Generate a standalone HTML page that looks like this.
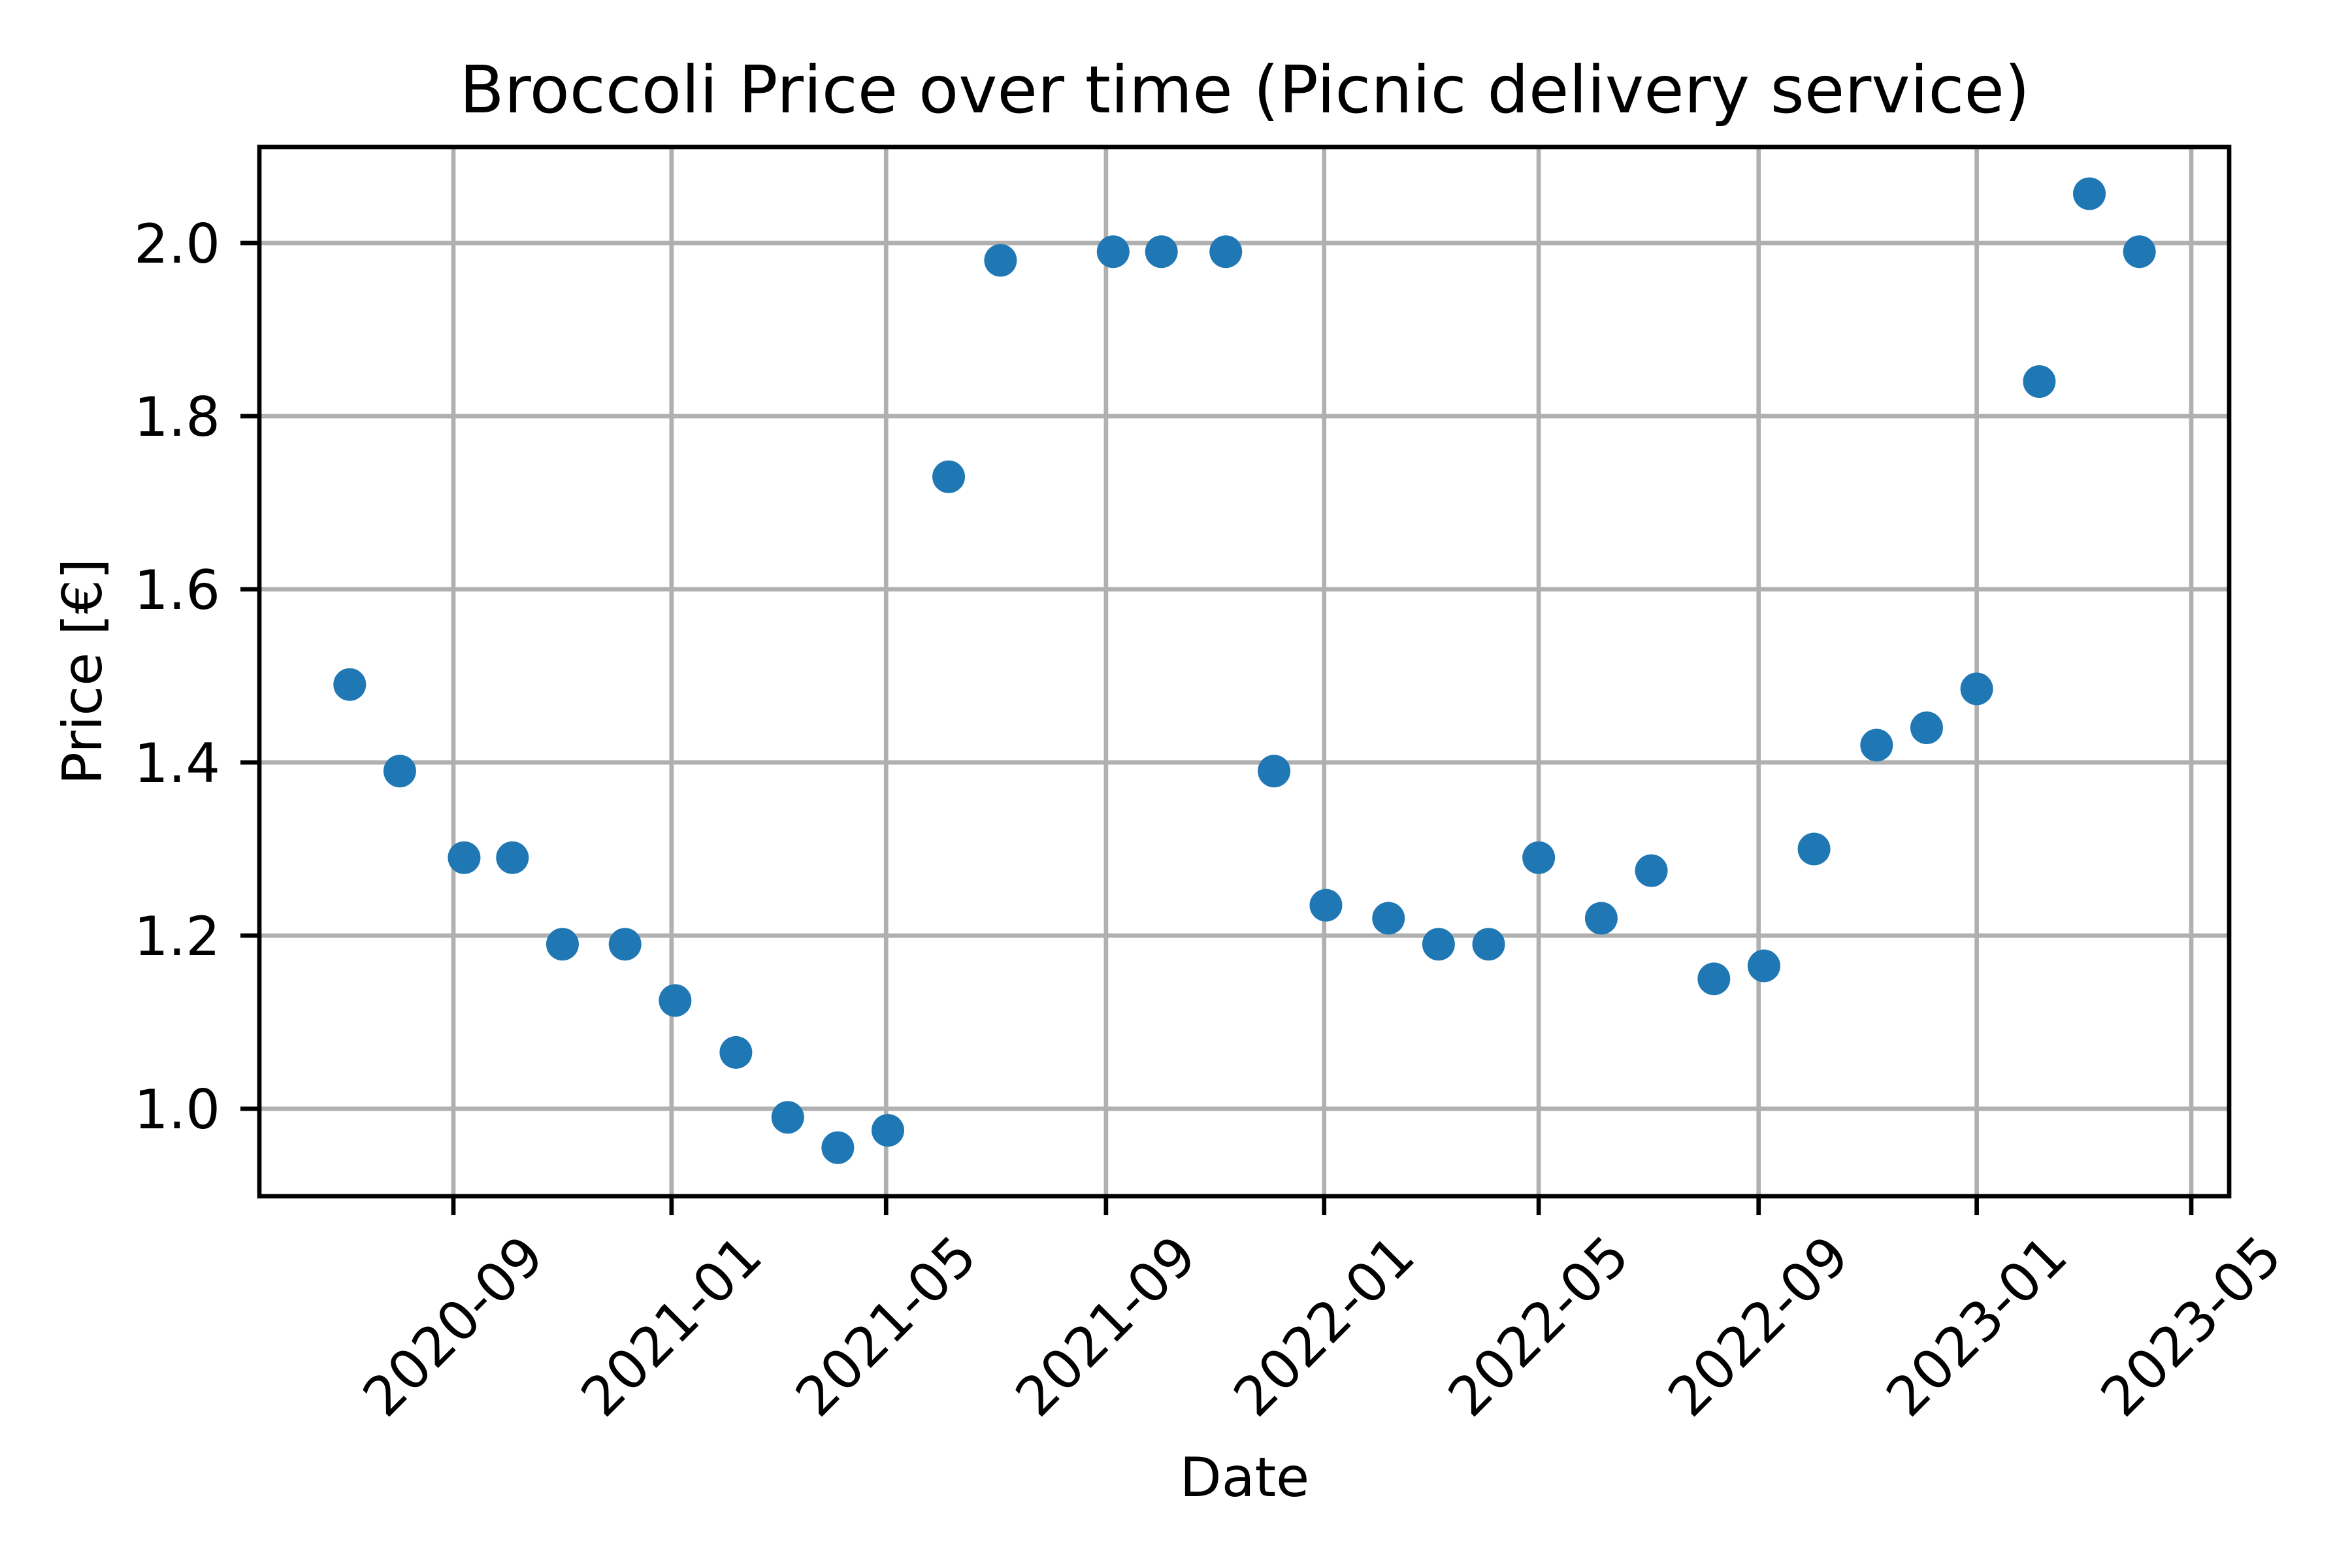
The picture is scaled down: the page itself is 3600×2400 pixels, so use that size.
<!DOCTYPE html>
<html><head><meta charset="utf-8"><style>
html,body{margin:0;padding:0;background:#fff}
svg{display:block;font-family:"DejaVu Sans","Liberation Sans",sans-serif}
</style></head><body>
<svg id="chart" width="3600" height="2400" viewBox="0 0 3600 2400" xmlns="http://www.w3.org/2000/svg">
<rect x="0" y="0" width="3600" height="2400" fill="#fff"/>
<g id="grid"></g>
<g id="points"></g>
<g id="axes"></g>
<text x="1905" y="172" font-size="100" text-anchor="middle">Broccoli Price over time (Picnic delivery service)</text>
<text x="1905" y="2290" font-size="83" text-anchor="middle">Date</text>
<text x="0" y="0" font-size="83" text-anchor="middle" transform="translate(155,1028) rotate(-90)">Price [€]</text>
</svg>
<script>
const dates = ["2020-07-05","2020-08-02","2020-09-07","2020-10-04","2020-11-01","2020-12-06","2021-01-03","2021-02-06","2021-03-07","2021-04-04","2021-05-02","2021-06-05","2021-07-04","2021-09-05","2021-10-02","2021-11-07","2021-12-04","2022-01-02","2022-02-06","2022-03-06","2022-04-03","2022-05-01","2022-06-05","2022-07-03","2022-08-07","2022-09-04","2022-10-02","2022-11-06","2022-12-04","2023-01-01","2023-02-05","2023-03-05","2023-04-02"];
const prices = [1.49,1.39,1.29,1.29,1.19,1.19,1.125,1.065,0.99,0.955,0.975,1.73,1.98,1.99,1.99,1.99,1.39,1.235,1.22,1.19,1.19,1.29,1.22,1.275,1.15,1.165,1.30,1.42,1.44,1.485,1.84,2.057,1.99];
const xTicks = ["2020-09","2021-01","2021-05","2021-09","2022-01","2022-05","2022-09","2023-01","2023-05"];
const yTicks = [1.0,1.2,1.4,1.6,1.8,2.0];

const NS="http://www.w3.org/2000/svg";
const L=397,R=3412,T=225,B=1831;
const day=86400000;
const x0=Date.UTC(2020,8,1), pxPerDay=2660/972;
function xs(s){const p=s.split("-").map(Number);const t=Date.UTC(p[0],p[1]-1,p[2]||1);return 694+(t-x0)/day*pxPerDay;}
function ys(v){return 372+(2.0-v)*1325;}
function mk(tag,attrs,parent){const e=document.createElementNS(NS,tag);for(const k in attrs)e.setAttribute(k,attrs[k]);parent.appendChild(e);return e;}
const grid=document.getElementById("grid"),axes=document.getElementById("axes"),pts=document.getElementById("points");

xTicks.forEach(s=>{
  const x=xs(s);
  const g=mk("line",{x1:x,x2:x,y1:T,y2:B,stroke:"#b0b0b0","stroke-width":6.7},grid);
  
  
  const t=mk("line",{x1:x,x2:x,y1:B,y2:B+29,stroke:"#000","stroke-width":6.7},axes);
  
  
  const lb=mk("text",{x:0,y:0,"font-size":83,"text-anchor":"middle","dominant-baseline":"central",transform:`translate(${x},2030) rotate(-45)`},axes);
  lb.textContent=s;
  
  
});
yTicks.forEach(v=>{
  const y=ys(v);
  const g=mk("line",{x1:L,x2:R,y1:y,y2:y,stroke:"#b0b0b0","stroke-width":6.7},grid);
  
  
  const t=mk("line",{x1:L-29,x2:L,y1:y,y2:y,stroke:"#000","stroke-width":6.7},axes);
  
  
  const lb=mk("text",{x:337,y:y+30,"font-size":83,"text-anchor":"end"},axes);
  lb.textContent=v.toFixed(1);
  
  
});
const frame=mk("rect",{x:L,y:T,width:R-L,height:B-T,fill:"none",stroke:"#000","stroke-width":6.7},axes);



dates.forEach((d,i)=>{
  const c=mk("circle",{cx:xs(d),cy:ys(prices[i]),r:25,fill:"#1f77b4"},pts);
  
  
});
</script>
</body></html>
